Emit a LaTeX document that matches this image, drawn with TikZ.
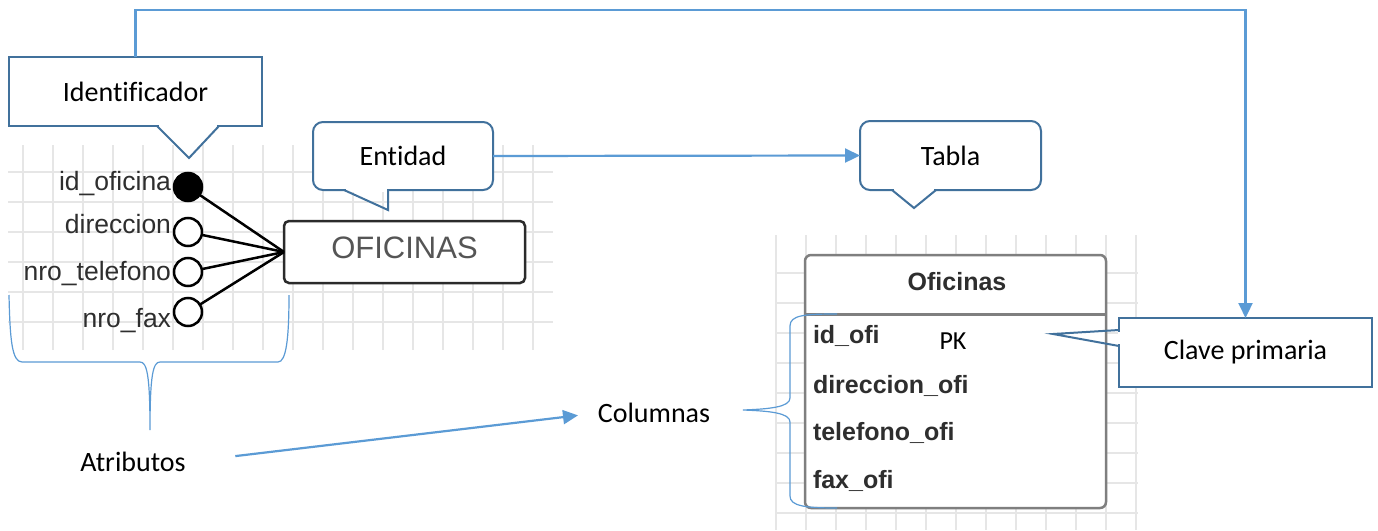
\documentclass[tikz,border=0pt]{standalone}
\usepackage{fontspec}
\setmainfont{Carlito}[Ligatures=CommonOff]
\newfontfamily\diafont{Liberation Sans}
\usetikzlibrary{arrows.meta}
\definecolor{linkblue}{HTML}{5B9BD5}
\definecolor{calloutblue}{HTML}{41719C}
\definecolor{gridgray}{HTML}{E6E6E6}
\definecolor{inkgray}{HTML}{2E2E2E}
\definecolor{boxink}{HTML}{2B2B2B}
\definecolor{titlegray}{HTML}{555555}
\definecolor{tablegray}{HTML}{7F7F7F}

\begin{document}
\begin{tikzpicture}[x=1pt,y=-1pt,
  every node/.style={inner sep=0pt, outer sep=0pt},
  note/.style={font=\fontsize{28}{34}\selectfont, text=black},
  callsq/.style={note, draw=calloutblue, line width=2pt, fill=white},
  callrd/.style={callsq, rounded corners=10pt},
  ptr/.style={draw=calloutblue, line width=2pt, line join=miter},
  link/.style={draw=linkblue, line width=2.2pt, -{Triangle[length=15pt,width=14pt]}},
  brace/.style={draw=linkblue, line width=1.2pt},
  attrlbl/.style={font=\diafont\fontsize{26.5}{30}\selectfont, text=inkgray, anchor=base east},
  attrdot/.style={circle, draw=black, line width=2.5pt, minimum size=28pt, fill=white},
  erlink/.style={draw=black, line width=2.5pt},
  colname/.style={font=\diafont\bfseries\fontsize{25}{30}\selectfont, text=inkgray, anchor=base west},
  gridline/.style={draw=gridgray, line width=1.5pt}]

% canvas
\fill[white] (0,0) rectangle (1378,530);
\useasboundingbox (0,0) rectangle (1378,530);

% drawing-paper grids
\foreach \x in {23,53,...,533} \draw[gridline] (\x,145) -- (\x,350);
\foreach \y in {172,202,...,322} \draw[gridline] (8,\y) -- (553,\y);
\foreach \x in {776,806,...,1136} \draw[gridline] (\x,235) -- (\x,530);
\foreach \y in {273,303,...,513} \draw[gridline] (776,\y) -- (1138,\y);

% entity with its attributes
\node[draw=boxink, line width=2.5pt, rounded corners=5pt, fill=white,
      minimum width=241pt, minimum height=62pt] (ofi) at (404.5,252) {};
\node[font=\diafont\fontsize{31}{36}\selectfont, text=titlegray] at (404.5,248) {OFICINAS};

\node[attrdot, fill=black] (c1) at (188,187) {};
\node[attrdot] (c2) at (188,232) {};
\node[attrdot] (c3) at (188,272) {};
\node[attrdot] (c4) at (188,312) {};
\foreach \c in {c1,c2,c3,c4} \draw[erlink] (\c) -- (ofi.west);

\node[attrlbl] (l1) at (171,190) {id\_oficina};
\node[attrlbl] (l2) at (171,233) {direccion};
\node[attrlbl] (l3) at (171,280) {nro\_telefono};
\node[attrlbl] (l4) at (171,327) {nro\_fax};

% relational table
\node[draw=tablegray, line width=2.5pt, rounded corners=6pt, fill=white,
      minimum width=301pt, minimum height=253pt] (tbl) at (955.5,381.5) {};
\coordinate (sepy) at (0,314);
\draw[tablegray, line width=3pt] (tbl.west |- sepy) -- (tbl.east |- sepy);
\node[font=\diafont\bfseries\fontsize{25}{30}\selectfont, text=inkgray, anchor=base] (hdr) at (957,290) {Oficinas};
\node[colname] (r1) at (813,343) {id\_ofi};
\node[colname] (r2) at (813,393) {direccion\_ofi};
\node[colname] (r3) at (813,440) {telefono\_ofi};
\node[colname] (r4) at (813,488) {fax\_ofi};
\node[font=\fontsize{26}{30}\selectfont, anchor=base] (pk) at (953,349) {PK};

% braces
\draw[brace] (9,295) .. controls (10,340) and (12,362) .. (22,362) -- (140,362)
  .. controls (147,362) and (150,375) .. (150,430)
  .. controls (150,375) and (153,362) .. (160,362) -- (278,362)
  .. controls (286,362) and (289,340) .. (289,295);
\draw[brace] (837,314) .. controls (805,314) and (790,315) .. (790,326) -- (790,398)
  .. controls (790,407) and (770,409) .. (743,410)
  .. controls (770,411) and (790,413) .. (790,422) -- (790,496)
  .. controls (790,506) and (805,508) .. (837,508);

% callouts
\node[callsq, minimum width=253pt, minimum height=69pt] (ident) at (135.5,91.5) {Identificador};
\fill[white] (159,124.5) rectangle (217,127.5);
\draw[ptr] (157,126) -- (189,158) -- (219,126);

\node[callrd, minimum width=180pt, minimum height=68pt] (ent) at (403,156) {Entidad};
\fill[white] (346,188.5) rectangle (387,191.5);
\draw[ptr] (344,190) -- (388,210) -- (388,190);

\node[callrd, minimum width=181pt, minimum height=69pt] (tab) at (950.5,155.5) {Tabla};
\fill[white] (894,188.5) rectangle (934,191.5);
\draw[ptr] (892,190) -- (914,208) -- (936,190);

\node[callsq, minimum width=253pt, minimum height=69pt] (clave) at (1245.5,352.5) {Clave primaria};
\fill[white] (1117.5,332) rectangle (1120.5,344);
\draw[ptr] (1119,330) -- (1053,334) -- (1119,346);

% plain labels
\node[note] (atr) at (133,462) {Atributos};
\node[note] (colm) at (654,413) {Columnas};

% connectors
\coordinate (topline) at (0,10);
\draw[link] (ident.north) -- (ident.north |- topline) -| (clave.north);
\draw[link] (ent.east) -- (tab.west);
\draw[link, shorten <=50pt, shorten >=20pt] (atr.east) -- (colm.west);
\end{tikzpicture}
\end{document}
